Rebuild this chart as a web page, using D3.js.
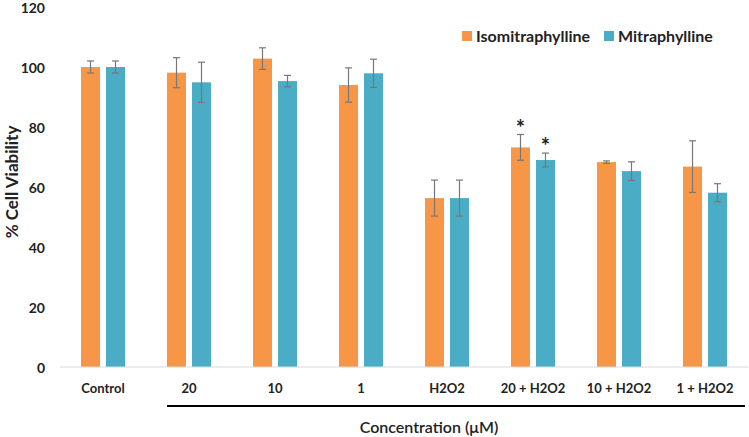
<!DOCTYPE html>
<html><head><meta charset="utf-8">
<script src="https://cdn.jsdelivr.net/npm/d3@7"></script>
<style>body{margin:0;background:#fff}svg{display:block;font-family:Lato,"Open Sans",sans-serif}</style>
</head><body><svg id="c" width="749" height="437"></svg>
<script>
const categories = ["Control","20","10","1","H2O2","20 + H2O2","10 + H2O2","1 + H2O2"];
const seriesNames = ["Isomitraphylline","Mitraphylline"];
const isoValues = [100, 98.1, 102.8, 94.0, 56.3, 73.2, 68.3, 66.8];
const isoErrors = [2.0, 5.0, 3.6, 5.7, 6.0, 4.3, 0.4, 8.6];
const mitValues = [100, 94.9, 95.3, 97.9, 56.3, 69.0, 65.3, 58.1];
const mitErrors = [2.0, 6.7, 1.9, 4.7, 6.0, 2.3, 3.1, 3.0];
const significant = [[false,false,false,false,false,true,false,false],[false,false,false,false,false,true,false,false]];
const yTicks = [0,20,40,60,80,100,120];
const colors = ["#F79646","#4BACC6"];

const svg = d3.select("#c");
const L = 60, R = 748, T = 7, B = 367;
const x0 = d3.scaleBand().domain(categories).range([L,R]).paddingInner(0).paddingOuter(0);
const x1 = d3.scaleBand().domain(seriesNames).range([x0.bandwidth()/2-22, x0.bandwidth()/2+22]).paddingInner(0.24).paddingOuter(0);
const y = d3.scaleLinear().domain([0,120]).range([B,T]);

// y ticks
svg.append("g").selectAll("text").data(yTicks).join("text")
  .attr("x", 45).attr("y", d=>y(d)+1).attr("dy","0.35em").attr("text-anchor","end")
  .attr("font-size",14).attr("font-weight",700).attr("fill","#222").text(d=>d);

const data = categories.map((c,i)=>({c, vals:[
  {s:seriesNames[0], v:isoValues[i], e:isoErrors[i], sig:significant[0][i], col:colors[0]},
  {s:seriesNames[1], v:mitValues[i], e:mitErrors[i], sig:significant[1][i], col:colors[1]}]}));

const g = svg.append("g").selectAll("g").data(data).join("g").attr("transform", d=>`translate(${x0(d.c)},0)`);
g.selectAll("rect").data(d=>d.vals).join("rect")
  .attr("x", d=>x1(d.s)).attr("width", x1.bandwidth())
  .attr("y", d=>y(d.v)).attr("height", d=>y(0)-y(d.v)).attr("fill", d=>d.col);
const eb = g.selectAll("g.eb").data(d=>d.vals).join("g").attr("class","eb")
  .attr("stroke","#777").attr("stroke-width",1.2);
eb.append("line").attr("x1",d=>x1(d.s)+x1.bandwidth()/2).attr("x2",d=>x1(d.s)+x1.bandwidth()/2)
  .attr("y1",d=>y(d.v+d.e)).attr("y2",d=>y(d.v-d.e));
eb.append("line").attr("x1",d=>x1(d.s)+x1.bandwidth()/2-3.5).attr("x2",d=>x1(d.s)+x1.bandwidth()/2+3.5)
  .attr("y1",d=>y(d.v+d.e)).attr("y2",d=>y(d.v+d.e));
eb.append("line").attr("x1",d=>x1(d.s)+x1.bandwidth()/2-3.5).attr("x2",d=>x1(d.s)+x1.bandwidth()/2+3.5)
  .attr("y1",d=>y(d.v-d.e)).attr("y2",d=>y(d.v-d.e));
g.selectAll("text.sig").data(d=>d.vals.filter(v=>v.sig)).join("text").attr("class","sig")
  .attr("x",d=>x1(d.s)+x1.bandwidth()/2).attr("y",d=>y(d.v+d.e)+1)
  .attr("text-anchor","middle").attr("font-size",22).attr("font-weight",700).attr("fill","#222").text("*");

// x axis baseline
svg.append("line").attr("x1",L).attr("x2",R).attr("y1",y(0)).attr("y2",y(0)).attr("stroke","#d9d9d9").attr("stroke-width",1);
// category labels
svg.append("g").selectAll("text").data(categories).join("text")
  .attr("x", d=>x0(d)+x0.bandwidth()/2).attr("y", 388).attr("dy","0.35em").attr("text-anchor","middle")
  .attr("font-size",13).attr("font-weight",700).attr("fill","#222").text(d=>d);
// bracket line under treatments
svg.append("line").attr("x1", x0("20")+x1(seriesNames[0])).attr("x2", 745).attr("y1",406).attr("y2",406)
  .attr("stroke","#000").attr("stroke-width",2);
svg.append("text").attr("x",429).attr("y",427).attr("dy","0.35em").attr("text-anchor","middle")
  .attr("font-size",16).attr("font-weight",600).attr("fill","#222").text("Concentration (μM)");
svg.append("text").attr("transform","translate(12,182) rotate(-90)").attr("text-anchor","middle").attr("dy","0.35em")
  .attr("font-size",17).attr("font-weight",700).attr("fill","#222").text("% Cell Viability");

// legend
const lg = svg.append("g");
const lx = [462, 604];
seriesNames.forEach((s,i)=>{
  lg.append("rect").attr("x",lx[i]).attr("y",31).attr("width",10).attr("height",10).attr("fill",colors[i]);
  lg.append("text").attr("x",lx[i]+14).attr("y",36).attr("dy","0.35em").attr("font-size",16).attr("font-weight",700).attr("fill","#222").text(s);
});
</script></body></html>
